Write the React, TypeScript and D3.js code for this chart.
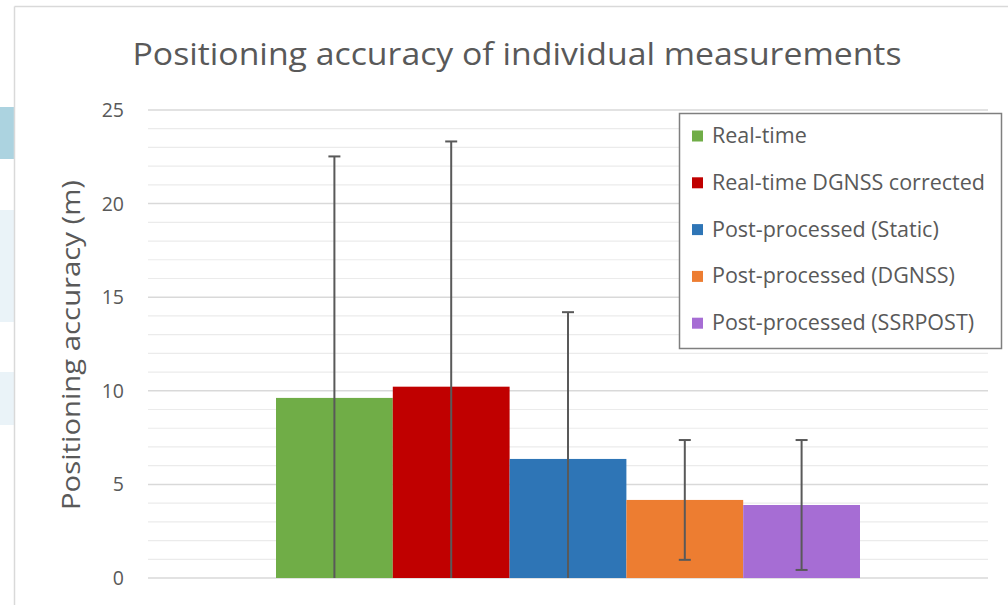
import React from "react";
import * as d3 from "d3";

const series = [
  "Real-time",
  "Real-time DGNSS corrected",
  "Post-processed (Static)",
  "Post-processed (DGNSS)",
  "Post-processed (SSRPOST)",
];
const values = [9.62, 10.22, 6.36, 4.17, 3.9];
const errors = [12.9, 13.1, 7.84, 3.2, 3.47];
const colors = ["#70ad47", "#c00000", "#2e75b6", "#ed7d31", "#a66dd4"];
const yTicks = [0, 5, 10, 15, 20, 25];

const W = 1008;
const H = 605;
const plotLeft = 148;
const plotRight = 988;
const yScale = d3.scaleLinear().domain([0, 25]).range([578, 110]);
const groupScale = d3.scaleBand<string>().domain(["g"]).range([plotLeft, plotRight]).paddingInner(0).paddingOuter(0.1524);
const barScale = d3.scaleBand<string>().domain(series).range([0, 0]);

export default function App() {
  const gx = groupScale("g") as number;
  const bw = groupScale.bandwidth();
  barScale.range([gx + (bw - 584) / 2, gx + (bw - 584) / 2 + 584]);
  const minorTicks = d3.range(0, 26, 1);
  const font = "'Open Sans', sans-serif";
  const textColor = "#595959";
  return (
    <svg width={W} height={H} style={{ position: "absolute", left: 0, top: 0, background: "#fff" }} fontFamily={font}>
      {/* slide background fragments */}
      <rect x={0} y={107} width={14} height={52} fill="#acd3e0" />
      <rect x={0} y={210} width={14} height={112} fill="#eaf3f8" />
      <rect x={0} y={372} width={14} height={53} fill="#eaf3f8" />
      {/* chart frame */}
      <line x1={14.5} y1={6.5} x2={W} y2={6.5} stroke="#d9d9d9" strokeWidth={1.5} />
      <line x1={14.5} y1={6.5} x2={14.5} y2={H} stroke="#d9d9d9" strokeWidth={1.5} />
      {/* gridlines */}
      {minorTicks.map((t) => (
        <line key={"m" + t} x1={plotLeft} x2={plotRight} y1={yScale(t)} y2={yScale(t)}
          stroke={t % 5 === 0 ? "#d9d9d9" : "#ebebeb"} strokeWidth={t % 5 === 0 ? 1.5 : 1.2} />
      ))}
      {/* title */}
      <text x={517} y={65} textAnchor="middle" fontSize={31} fill={textColor} textLength={769} lengthAdjust="spacingAndGlyphs">
        Positioning accuracy of individual measurements
      </text>
      {/* y tick labels */}
      {yTicks.map((t) => (
        <text key={t} x={124} y={yScale(t) + 7} textAnchor="end" fontSize={19.5} fill={textColor}>
          {t}
        </text>
      ))}
      {/* y axis title */}
      <text transform={`translate(80,345) rotate(-90)`} textAnchor="middle" fontSize={25} fill={textColor} textLength={330} lengthAdjust="spacingAndGlyphs">
        Positioning accuracy (m)
      </text>
      {/* bars */}
      {series.map((s, i) => (
        <rect key={s} x={barScale(s)} y={yScale(values[i])} width={barScale.bandwidth()}
          height={yScale(0) - yScale(values[i])} fill={colors[i]} />
      ))}
      {/* error bars */}
      {series.map((s, i) => {
        const cx = (barScale(s) as number) + barScale.bandwidth() / 2;
        const hi = values[i] + errors[i];
        const lo = values[i] - errors[i];
        const yHi = yScale(hi);
        const yLo = yScale(Math.max(lo, 0));
        return (
          <g key={"e" + s} stroke="#595959" strokeWidth={2}>
            <line x1={cx} x2={cx} y1={yHi} y2={yLo} />
            <line x1={cx - 6} x2={cx + 6} y1={yHi} y2={yHi} />
            {lo > 0 && <line x1={cx - 6} x2={cx + 6} y1={yLo} y2={yLo} />}
          </g>
        );
      })}
      {/* legend */}
      <rect x={679.5} y={113.5} width={322} height={235} fill="#fff" stroke="#7f7f7f" strokeWidth={1.5} />
      {series.map((s, i) => {
        const cy = 136 + i * 46.8;
        return (
          <g key={"l" + s}>
            <rect x={692} y={cy - 5.5} width={11} height={11} fill={colors[i]} />
            <text x={712} y={cy + 7} fontSize={21.5} fill={textColor}>
              {s}
            </text>
          </g>
        );
      })}
    </svg>
  );
}
